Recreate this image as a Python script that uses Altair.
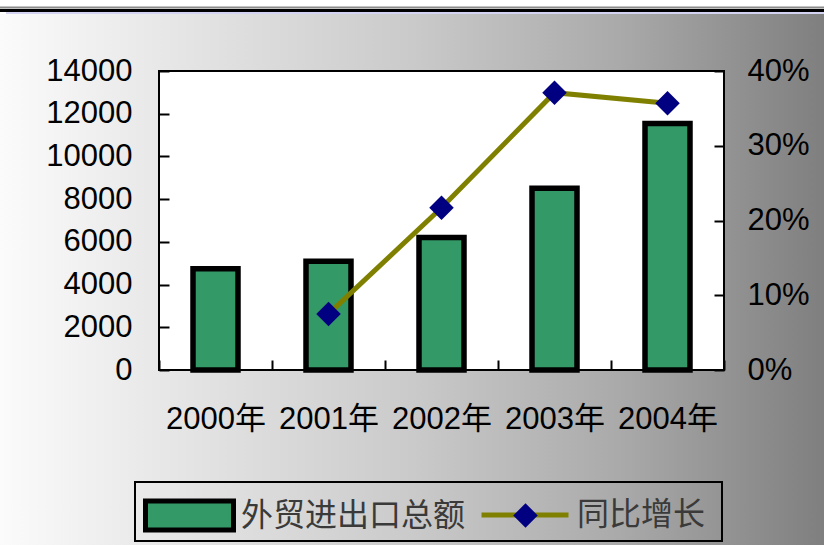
import altair as alt
import pandas as pd

# ---- data ----
years = ["2000年", "2001年", "2002年", "2003年", "2004年"]
trade_total = [4743, 5097, 6208, 8510, 11546]          # 外贸进出口总额
growth_years = ["2001年", "2002年", "2003年", "2004年"]
growth_rate = [0.075, 0.217, 0.371, 0.357]             # 同比增长
left_ticks = [0, 2000, 4000, 6000, 8000, 10000, 12000, 14000]
right_ticks = [0.0, 0.1, 0.2, 0.3, 0.4]
series_bar = "外贸进出口总额"
series_line = "同比增长"

bar_df = pd.DataFrame({"year": years, "total": trade_total,
                       "series": [series_bar] * len(years)})
line_df = pd.DataFrame({"year": growth_years, "rate": growth_rate,
                        "series": [series_line] * len(growth_years),
                        "marker": ["◆"] * len(growth_years)})
one = pd.DataFrame({"k": [0]})

# ---- layout ----
W, H = 565, 299
PL, PT = 159, 71
TOTAL_W, TOTAL_H = 824, 545
NUM_FONT = "Liberation Sans, Arial, Noto Sans CJK SC"
CJK_FONT = "Noto Sans CJK SC"
TICK = 10

grad = alt.LinearGradient(
    gradient="linear",
    stops=[
        alt.GradientStop(color="#fbfbfb", offset=0),
        alt.GradientStop(color="#e2e2e2", offset=0.25),
        alt.GradientStop(color="#cacaca", offset=0.5),
        alt.GradientStop(color="#aaaaaa", offset=0.75),
        alt.GradientStop(color="#7f7f7f", offset=1),
    ],
    x1=0, x2=1, y1=0, y2=0,
)

bg = alt.Chart(one).mark_rect(fill=grad).encode(
    x=alt.value(-PL), x2=alt.value(TOTAL_W - PL),
    y=alt.value(14 - PT), y2=alt.value(TOTAL_H - PT),
)

top_gray = alt.Chart(one).mark_rule(stroke="#8a8a8a", strokeWidth=2).encode(
    x=alt.value(-PL), x2=alt.value(TOTAL_W - PL), y=alt.value(7.5 - PT))
top_black = alt.Chart(one).mark_rule(stroke="black", strokeWidth=3).encode(
    x=alt.value(-PL), x2=alt.value(TOTAL_W - PL), y=alt.value(10.5 - PT))
top_lav = alt.Chart(one).mark_rule(stroke="#d4d4f2", strokeWidth=2).encode(
    x=alt.value(6 - PL), x2=alt.value(TOTAL_W - PL), y=alt.value(13 - PT))

frame = alt.Chart(one).mark_rect(fill="white", stroke="black", strokeWidth=2).encode(
    x=alt.value(0), x2=alt.value(W), y=alt.value(0), y2=alt.value(H))

x_scale = alt.Scale(domain=years, paddingInner=0, paddingOuter=0)
x_axis = alt.Axis(title=None, orient="bottom", domain=False, tickBand="extent",
                  offset=-TICK, tickSize=TICK, tickColor="black", tickWidth=2,
                  labelAngle=0, labelFont=NUM_FONT, labelFontSize=31,
                  labelColor="black", labelPadding=34, zindex=1)
x_enc = alt.X("year:N", sort=years, scale=x_scale, axis=x_axis)
y_right_scale = alt.Scale(domain=[0, 0.4], nice=False, zero=True)
y_right_axis = alt.Axis(title=None, orient="right", values=right_ticks, format=".0%",
                        grid=False, domain=False, offset=-TICK, tickSize=TICK,
                        tickColor="black", tickWidth=2, labelFont=NUM_FONT,
                        labelFontSize=31, labelColor="black", labelPadding=23,
                        zindex=1)

bars = alt.Chart(bar_df).mark_bar(size=45, stroke="black", strokeWidth=5.5).encode(
    x=x_enc,
    y=alt.Y("total:Q", scale=alt.Scale(domain=[0, 14000], nice=False, zero=True),
            axis=alt.Axis(title=None, orient="left", values=left_ticks, format="d",
                          grid=False, domain=False, offset=-TICK, tickSize=TICK,
                          tickColor="black", tickWidth=2, labelFont=NUM_FONT,
                          labelFontSize=31, labelColor="black", labelPadding=27,
                          zindex=1)),
    fill=alt.Fill("series:N", scale=alt.Scale(domain=[series_bar], range=["#339966"]),
                  legend=alt.Legend(title=None, orient="none", legendX=-16, legendY=398,
                                    padding=0, symbolType="M-1,-0.33H1V0.33H-1Z",
                                    symbolSize=7744, symbolStrokeColor="black",
                                    symbolStrokeWidth=5, symbolOpacity=1,
                                    labelFont=CJK_FONT, labelFontSize=32,
                                    labelColor="#3a3a3a", labelOffset=5, labelLimit=0)),
)

line = alt.Chart(line_df).mark_line(strokeWidth=5).encode(
    x=x_enc,
    y=alt.Y("rate:Q", scale=y_right_scale, axis=y_right_axis),
    stroke=alt.Stroke("series:N", scale=alt.Scale(domain=[series_line], range=["#808000"]),
                      legend=alt.Legend(title=None, orient="none", legendX=320, legendY=398,
                                        padding=0, symbolType="stroke", symbolSize=7569,
                                        symbolStrokeWidth=5, labelFont=CJK_FONT,
                                        labelFontSize=32, labelColor="#3a3a3a",
                                        labelOffset=6, labelLimit=0)),
)

points = alt.Chart(line_df).mark_point(filled=True, size=600, opacity=1,
                                       color="#000080").encode(
    x=x_enc,
    y=alt.Y("rate:Q", scale=y_right_scale, axis=y_right_axis),
    shape=alt.Shape("marker:N", scale=alt.Scale(domain=["◆"], range=["diamond"]),
                    legend=alt.Legend(title=None, orient="none", legendX=354, legendY=432,
                                      padding=0, symbolSize=600,
                                      symbolFillColor="#000080", symbolStrokeColor="#000080",
                                      symbolStrokeWidth=0, symbolOpacity=1,
                                      labelExpr="''", labelFontSize=1)),
)

growth = alt.layer(line, points)

legend_box = alt.Chart(one).mark_rect(filled=False, stroke="black", strokeWidth=2).encode(
    x=alt.value(135 - PL), x2=alt.value(722 - PL),
    y=alt.value(482 - PT), y2=alt.value(541 - PT))

chart = alt.layer(
    bg, top_gray, top_black, top_lav, frame, bars, growth, legend_box
).resolve_scale(
    y="independent"
).properties(
    width=W, height=H,
    padding={"left": PL, "top": PT, "right": TOTAL_W - PL - W, "bottom": TOTAL_H - PT - H},
    autosize=alt.AutoSizeParams(type="none"),
    background="white",
).configure_view(strokeWidth=0).configure_axis(zindex=1)

chart.save("out.html", embed_options={"renderer": "svg", "actions": False})
